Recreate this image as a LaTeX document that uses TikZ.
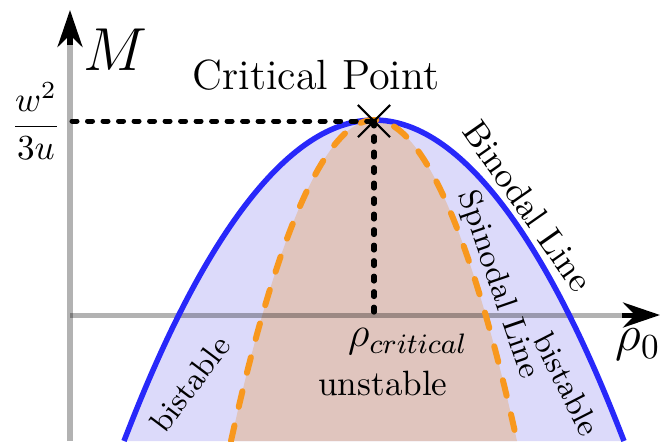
\documentclass[tikz,border=0pt]{standalone}
\usepackage{amsmath,amssymb}
\usepackage{tikz}
\usetikzlibrary{arrows.meta,shapes.misc}
\usepackage{xcolor}
\definecolor{binoline}{RGB}{40,40,250}
\definecolor{binofill}{RGB}{220,218,250}
\definecolor{spinoline}{RGB}{248,152,30}
\definecolor{spinofill}{RGB}{224,197,190}
\tikzset{
  axisline/.style={line width=0.05cm,draw=black,draw opacity=0.3},
  axistip/.style={-{Stealth[length=0.37cm,width=0.25cm]},line width=0.05cm,draw=black},
  binodal/.style={line width=0.055cm,draw=binoline},
  spinodal/.style={line width=0.06cm,draw=spinoline,line cap=round,dash pattern=on 0.16cm off 0.19cm},
  guide/.style={line width=0.05cm,line cap=round,dash pattern=on 0.05cm off 0.105cm},
  lbl/.style={inner sep=1pt,font=\normalsize}
}

\begin{document}
\begin{tikzpicture}[x=0.01cm,y=0.01cm]
\useasboundingbox (0,0) rectangle (672,441);
% regions
\fill[binofill] (124,0) parabola bend (374,321) (624,0) -- cycle;
\fill[spinofill] (231,0) parabola bend (374,321) (517,0) -- cycle;
% axes
\coordinate (yorig) at (70,0);
\coordinate (ybase) at (70,396);
\coordinate (ytip) at (70,431);
\coordinate (xorig) at (70,126);
\coordinate (xbase) at (622,126);
\coordinate (xtip) at (660,126);
\draw[axisline] (yorig) -- (ybase);
\draw[axistip] (ybase) -- (ytip);
\draw[axisline] (xorig) -- (xbase);
\draw[axistip] (xbase) -- (xtip);
% lines
\draw[binodal] (124,0) parabola bend (374,321) (624,0);
\draw[spinodal] (231,0) parabola bend (374,321) (517,0);
\node[draw,cross out,minimum size=0.3cm,inner sep=0pt,line width=0.6pt] (crit) at (374,320) {};
\coordinate (mlevel) at (72,320);
\coordinate (rhocrit) at (374,128);
\draw[guide] (mlevel) -- (crit.center);
\draw[guide] (crit.center) -- (rhocrit);
% labels
\node[lbl,font=\LARGE] (mlabel) at (115,391) {$M$};
\node[lbl,font=\normalsize] (wlabel) at (36,320) {$\dfrac{w^2}{3u}$};
\node[lbl,font=\large] (critlabel) at (316,366) {Critical Point};
\node[lbl,font=\large] (rholabel) at (408,99) {$\rho_{critical}$};
\node[lbl] (unstab) at (383,58) {unstable};
\node[lbl,font=\Large] (rho0) at (638,96) {$\rho_0$};
\node[lbl,rotate=-55] (binolabel) at (528,235) {Binodal Line};
\node[lbl,font=\small,rotate=-71] (spinolabel) at (498,156) {Spinodal Line};
\node[lbl,font=\small,rotate=53] (bileft) at (190,57) {bistable};
\node[lbl,font=\small,rotate=-63] (biright) at (567,57) {bistable};
\end{tikzpicture}
\end{document}
